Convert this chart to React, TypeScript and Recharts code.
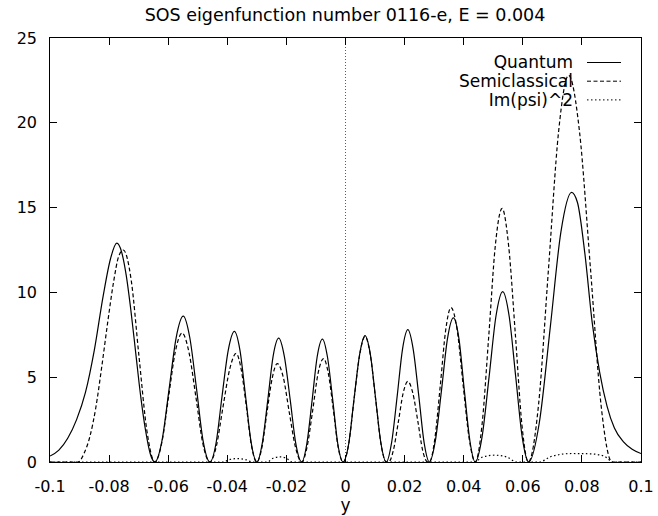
import React from 'react';
import { LineChart, Line, XAxis, YAxis, ReferenceLine } from 'recharts';

const FONT = '"DejaVu Sans", sans-serif';

const xTicks = [-0.1, -0.08, -0.06, -0.04, -0.02, 0, 0.02, 0.04, 0.06, 0.08, 0.1];
const yTicks = [0, 5, 10, 15, 20, 25];

// Quantum |psi|^2 (solid)
const quantumX = [
  -0.1, -0.097, -0.094, -0.091, -0.088, -0.085, -0.082, -0.0795, -0.0774,
  -0.0758, -0.0742, -0.0726, -0.071, -0.0694, -0.0677, -0.0661, -0.0645,
  -0.0621, -0.0597, -0.0573, -0.0549, -0.0527, -0.0504, -0.0482, -0.0459,
  -0.0438, -0.0418, -0.0397, -0.0376, -0.0357, -0.0338, -0.0319, -0.03,
  -0.0282, -0.0263, -0.0245, -0.0226, -0.0207, -0.0187, -0.0168, -0.0148,
  -0.0131, -0.0113, -0.0096, -0.0078, -0.0061, -0.0043, -0.0026, -0.0008,
  0.0011, 0.0029, 0.0048, 0.0066, 0.0084, 0.0102, 0.012, 0.0138,
  0.0156, 0.0175, 0.0193, 0.0211, 0.0229, 0.0248, 0.0266, 0.0284,
  0.0304, 0.0325, 0.0345, 0.0365, 0.0384, 0.0402, 0.0421, 0.0439,
  0.0462, 0.0486, 0.0509, 0.0532, 0.0554, 0.0576, 0.0598, 0.062,
  0.0656, 0.0693, 0.0729, 0.0765, 0.0785, 0.081, 0.0835, 0.086, 0.0885, 0.091, 0.094, 0.097, 0.1,
];
const quantumY = [
  0.35, 0.7, 1.4, 2.5, 4.1, 6.6, 9.8, 12.0, 12.9,
  12.4, 11.0, 8.9, 6.45, 4.0, 1.9, 0.5, 0,
  1.26, 4.3, 7.34, 8.6, 7.34, 4.3, 1.26, 0,
  1.12, 3.85, 6.57, 7.7, 6.57, 3.85, 1.12, 0,
  1.07, 3.65, 6.23, 7.3, 6.23, 3.65, 1.07, 0,
  1.06, 3.63, 6.19, 7.25, 6.19, 3.63, 1.06, 0,
  1.09, 3.73, 6.36, 7.45, 6.36, 3.73, 1.09, 0,
  1.14, 3.9, 6.66, 7.8, 6.66, 3.9, 1.14, 0,
  1.24, 4.25, 7.26, 8.5, 7.26, 4.25, 1.24, 0,
  1.47, 5.03, 8.58, 10.05, 8.58, 5.03, 1.47, 0,
  2.33, 7.95, 13.57, 15.9, 15.3, 12.3, 8.2, 5.3, 3.3, 2.0, 1.2, 0.75, 0.5,
];

// Semiclassical (dashed)
const semiX = [
  -0.1, -0.0905, -0.0885, -0.0865, -0.0845, -0.0825, -0.0805, -0.0785, -0.0768, -0.0752,
  -0.0725, -0.0699, -0.0672, -0.0645,
  -0.0622, -0.0599, -0.0576, -0.0553, -0.053, -0.0506, -0.0483, -0.0459,
  -0.0437, -0.0415, -0.0392, -0.037, -0.0353, -0.0335, -0.0318, -0.03,
  -0.0283, -0.0266, -0.0248, -0.0231, -0.021, -0.019, -0.0169, -0.0148,
  -0.013, -0.0111, -0.0093, -0.0074, -0.0058, -0.0041, -0.0025, -0.0008,
  0.0011, 0.0029, 0.0048, 0.0066, 0.0084, 0.0102, 0.012, 0.0138,
  0.0146, 0.0162, 0.0179, 0.0195, 0.0211, 0.0228, 0.0245, 0.0261, 0.0278, 0.0284,
  0.0302, 0.0321, 0.0339, 0.0357, 0.0378, 0.0398, 0.0419, 0.0439,
  0.0462, 0.0485, 0.0507, 0.053, 0.0552, 0.0575, 0.0597, 0.0619,
  0.0653, 0.0687, 0.0721, 0.0755, 0.0792, 0.0829, 0.0865, 0.0902, 0.1,
];
const semiY = [
  0, 0, 0.5, 1.5, 3.2, 5.6, 8.2, 10.6, 12.1, 12.5,
  10.7, 6.25, 1.83, 0,
  1.11, 3.8, 6.49, 7.6, 6.49, 3.8, 1.11, 0,
  0.94, 3.2, 5.46, 6.4, 5.46, 3.2, 0.94, 0,
  0.85, 2.9, 4.95, 5.8, 4.95, 2.9, 0.85, 0,
  0.89, 3.05, 5.21, 6.1, 5.21, 3.05, 0.89, 0,
  1.08, 3.7, 6.32, 7.4, 6.32, 3.7, 1.08, 0,
  0, 0.69, 2.38, 4.05, 4.75, 4.05, 2.38, 0.69, 0, 0,
  1.33, 4.55, 7.77, 9.1, 7.77, 4.55, 1.33, 0,
  2.19, 7.48, 12.76, 14.95, 12.76, 7.48, 2.19, 0,
  3.33, 11.4, 19.46, 22.8, 19.46, 11.4, 3.33, 0, 0,
];

// Im(psi)^2 (dotted)
const imX = [
  -0.1, -0.0415, -0.039, -0.0365, -0.034, -0.0315, -0.0265, -0.0245, -0.0222, -0.02, -0.018,
  0.0435, 0.0465, 0.0505, 0.0545, 0.058, 0.0655, 0.07, 0.0765, 0.083, 0.0875, 0.0905, 0.1,
];
const imY = [
  0, 0, 0.15, 0.2, 0.15, 0, 0, 0.22, 0.3, 0.22, 0,
  0, 0.3, 0.4, 0.3, 0, 0, 0.35, 0.5, 0.48, 0.35, 0, 0,
];

const toPoints = (xs: number[], ys: number[]) => xs.map((x, i) => ({ x, y: ys[i] }));

const series = [
  { name: 'Quantum', data: toPoints(quantumX, quantumY), dash: '' },
  { name: 'Semiclassical', data: toPoints(semiX, semiY), dash: '4 2.5' },
  { name: 'Im(psi)^2', data: toPoints(imX, imY), dash: '1.5 2.5' },
];

const X_MIN = -0.1, X_MAX = 0.1, Y_MIN = 0, Y_MAX = 25;

// plot box (chart margins + axis sizes below put it here)
const BOX = { left: 50, top: 38, width: 591, height: 424 };
const TICK_LEN = 7;

const px = (x: number) => BOX.left + ((x - X_MIN) / (X_MAX - X_MIN)) * BOX.width;
const py = (y: number) => BOX.top + BOX.height - ((y - Y_MIN) / (Y_MAX - Y_MIN)) * BOX.height;

// gnuplot frame with inward ticks on all four sides
function Frame() {
  const mark = { position: 'absolute' as const, background: '#000' };
  return (
    <div style={{ position: 'absolute', left: 0, top: 0, pointerEvents: 'none' }}>
      <div style={{
        position: 'absolute', left: BOX.left - 0.75, top: BOX.top - 0.75,
        width: BOX.width + 1.5, height: BOX.height + 1.5,
        boxSizing: 'border-box', border: '1.5px solid #000',
      }} />
      {xTicks.slice(1, -1).map((t) => (
        <React.Fragment key={`x${t}`}>
          <div style={{ ...mark, left: px(t) - 0.5, top: BOX.top, width: 1, height: TICK_LEN }} />
          <div style={{ ...mark, left: px(t) - 0.5, top: BOX.top + BOX.height - TICK_LEN, width: 1, height: TICK_LEN }} />
        </React.Fragment>
      ))}
      {yTicks.slice(1, -1).map((v) => (
        <React.Fragment key={`y${v}`}>
          <div style={{ ...mark, left: BOX.left, top: py(v) - 0.5, width: TICK_LEN, height: 1 }} />
          <div style={{ ...mark, left: BOX.left + BOX.width - TICK_LEN, top: py(v) - 0.5, width: TICK_LEN, height: 1 }} />
        </React.Fragment>
      ))}
    </div>
  );
}

function LegendBox() {
  return (
    <svg width={200} height={60} style={{ position: 'absolute', left: 440, top: 50, pointerEvents: 'none' }}>
      {series.map((s, i) => (
        <g key={s.name}>
          <text x={133} y={18.3 + i * 18.7} textAnchor="end" fontFamily={FONT} fontSize={17} fill="#000">
            {s.name}
          </text>
          <line x1={147} x2={181} y1={12.5 + i * 18.7} y2={12.5 + i * 18.7}
            stroke="#000" strokeWidth={1} strokeDasharray={s.dash || undefined} />
        </g>
      ))}
    </svg>
  );
}

export default function App() {
  const tickStyle = { fill: '#000', fontSize: 16, fontFamily: FONT };
  return (
    <div style={{ position: 'absolute', left: 0, top: 0, width: 658, height: 516, background: '#fff' }}>
      <LineChart width={658} height={516} margin={{ top: 38, right: 17, bottom: 0, left: 0 }}>
        <XAxis xAxisId="b" dataKey="x" type="number" domain={[X_MIN, X_MAX]} ticks={xTicks}
          interval={0} allowDataOverflow height={54} tickSize={0} tickMargin={19}
          axisLine={false} tickLine={false} tick={tickStyle}
          label={{ value: 'y', position: 'insideBottom', offset: 5, fill: '#000', fontSize: 17, fontFamily: FONT }} />
        <YAxis yAxisId="l" type="number" domain={[Y_MIN, Y_MAX]} ticks={yTicks}
          allowDataOverflow width={50} tickSize={0} tickMargin={13}
          axisLine={false} tickLine={false} tick={tickStyle} />
        <ReferenceLine xAxisId="b" yAxisId="l" x={0} stroke="#333" strokeWidth={0.8} strokeDasharray="1 2" />
        {series.map((s) => (
          <Line key={s.name} xAxisId="b" yAxisId="l" data={s.data} dataKey="y" name={s.name}
            type="monotone" stroke="#000" strokeWidth={1.2} strokeDasharray={s.dash || undefined}
            dot={false} activeDot={false} isAnimationActive={false} />
        ))}
      </LineChart>
      <Frame />
      <div style={{
        position: 'absolute', left: 0, top: 5, width: 690, textAlign: 'center',
        fontFamily: FONT, fontSize: 17.5, lineHeight: '20px', color: '#000', pointerEvents: 'none',
      }}>
        SOS eigenfunction number 0116-e, E = 0.004
      </div>
      <LegendBox />
    </div>
  );
}
